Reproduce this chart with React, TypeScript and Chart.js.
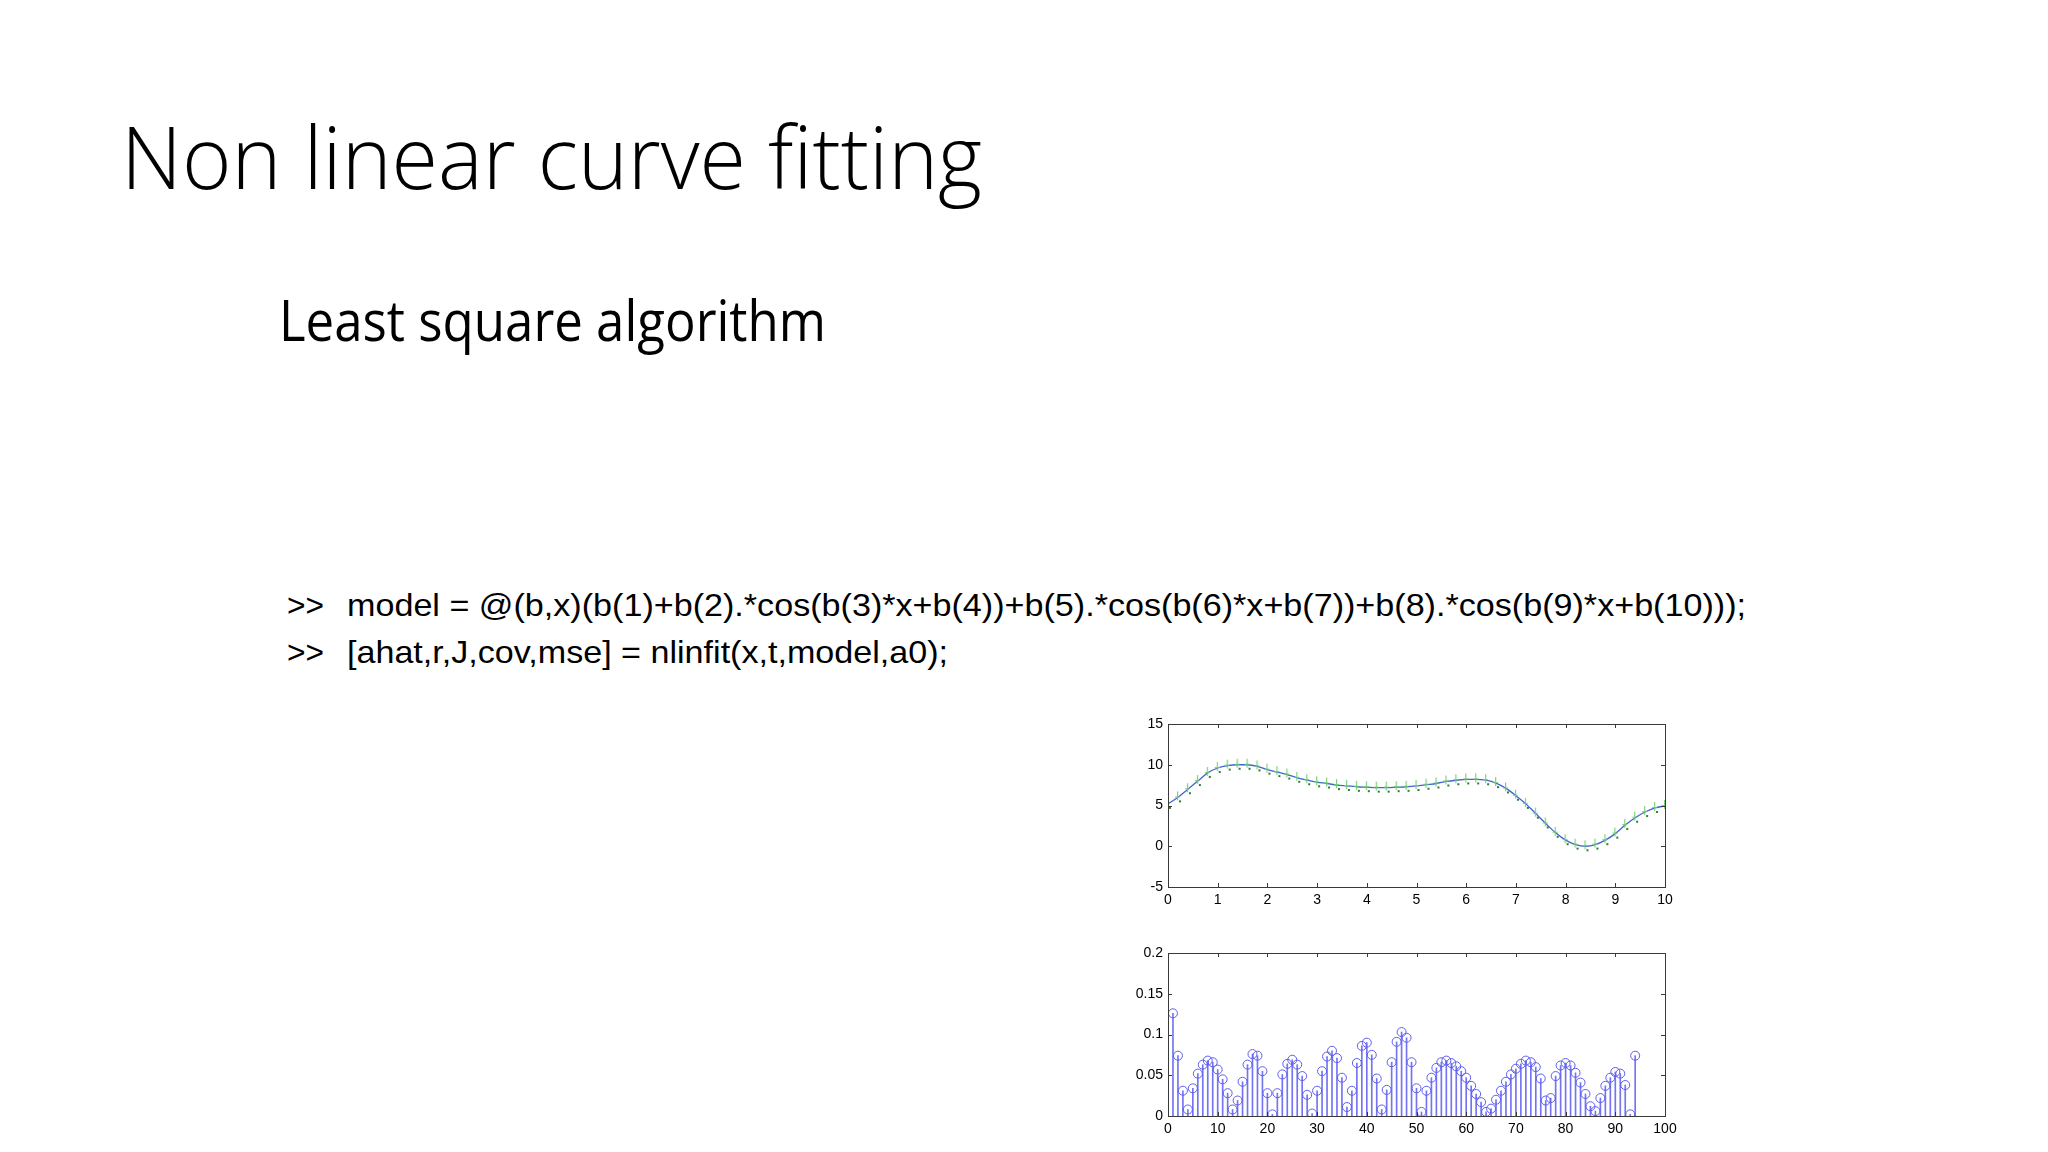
import React, { useEffect, useLayoutEffect, useRef } from "react";
import { Chart, registerables } from "chart.js";

Chart.register(...registerables);

// ---------- data ----------
const fitX = [0, 0.2, 0.4, 0.6, 0.8, 1, 1.2, 1.4, 1.6, 1.8, 2, 2.2, 2.4, 2.6, 2.8, 3, 3.2, 3.4, 3.6, 3.8, 4, 4.2, 4.4, 4.6, 4.8, 5, 5.2, 5.4, 5.6, 5.8, 6, 6.2, 6.4, 6.6, 6.8, 7, 7.2, 7.4, 7.6, 7.8, 8, 8.2, 8.4, 8.6, 8.8, 9, 9.2, 9.4, 9.6, 9.8, 10];
const fitY = [5.2, 6.0, 7.0, 8.0, 9.0, 9.6, 9.9, 10.0, 10.0, 9.8, 9.4, 9.1, 8.8, 8.4, 8.1, 7.85, 7.7, 7.5, 7.4, 7.3, 7.25, 7.2, 7.2, 7.25, 7.3, 7.4, 7.55, 7.7, 7.95, 8.1, 8.2, 8.2, 8.1, 7.75, 7.1, 6.2, 5.2, 4.0, 2.8, 1.65, 0.75, 0.2, 0.0, 0.2, 0.75, 1.55, 2.6, 3.5, 4.2, 4.7, 4.95];
const topXTicks = [0, 1, 2, 3, 4, 5, 6, 7, 8, 9, 10];
const topYTicks = [-5, 0, 5, 10, 15];

const residualIndex = [1, 2, 3, 4, 5, 6, 7, 8, 9, 10, 11, 12, 13, 14, 15, 16, 17, 18, 19, 20, 21, 22, 23, 24, 25, 26, 27, 28, 29, 30, 31, 32, 33, 34, 35, 36, 37, 38, 39, 40, 41, 42, 43, 44, 45, 46, 47, 48, 49, 50, 51, 52, 53, 54, 55, 56, 57, 58, 59, 60, 61, 62, 63, 64, 65, 66, 67, 68, 69, 70, 71, 72, 73, 74, 75, 76, 77, 78, 79, 80, 81, 82, 83, 84, 85, 86, 87, 88, 89, 90, 91, 92, 93, 94];
const residualValue = [0.126, 0.074, 0.031, 0.008, 0.034, 0.052, 0.063, 0.068, 0.066, 0.057, 0.045, 0.028, 0.008, 0.019, 0.042, 0.063, 0.076, 0.074, 0.055, 0.028, 0.002, 0.028, 0.051, 0.064, 0.069, 0.063, 0.049, 0.026, 0.003, 0.031, 0.055, 0.073, 0.080, 0.071, 0.047, 0.011, 0.031, 0.065, 0.086, 0.090, 0.075, 0.046, 0.008, 0.032, 0.066, 0.091, 0.103, 0.096, 0.066, 0.034, 0.005, 0.031, 0.047, 0.059, 0.066, 0.068, 0.065, 0.061, 0.055, 0.047, 0.037, 0.027, 0.017, 0.005, 0.009, 0.020, 0.031, 0.042, 0.051, 0.058, 0.064, 0.068, 0.066, 0.060, 0.046, 0.019, 0.022, 0.049, 0.062, 0.065, 0.062, 0.053, 0.041, 0.027, 0.012, 0.006, 0.022, 0.037, 0.047, 0.054, 0.052, 0.038, 0.002, 0.074];
const bottomXTicks = [0, 10, 20, 30, 40, 50, 60, 70, 80, 90, 100];
const bottomYTicks = [0, 0.05, 0.1, 0.15, 0.2];

// ---------- helpers ----------
const boxPlugin = {
  id: "matlabBox",
  afterDraw(chart: any) {
    const { ctx, chartArea } = chart;
    const { left, right, top, bottom } = chartArea;
    const xs = chart.scales.x;
    const ys = chart.scales.y;
    ctx.save();
    ctx.strokeStyle = "#3a3a3a";
    ctx.lineWidth = 1;
    ctx.strokeRect(Math.round(left) + 0.5, Math.round(top) + 0.5, Math.round(right - left), Math.round(bottom - top));
    const len = 4;
    ctx.beginPath();
    xs.ticks.forEach((t: any) => {
      const px = Math.round(xs.getPixelForValue(t.value)) + 0.5;
      ctx.moveTo(px, bottom);
      ctx.lineTo(px, bottom - len);
      ctx.moveTo(px, top);
      ctx.lineTo(px, top + len);
    });
    ys.ticks.forEach((t: any) => {
      const py = Math.round(ys.getPixelForValue(t.value)) + 0.5;
      ctx.moveTo(left, py);
      ctx.lineTo(left + len, py);
      ctx.moveTo(right, py);
      ctx.lineTo(right - len, py);
    });
    ctx.stroke();
    ctx.restore();
  },
};

function makeMarker(): HTMLCanvasElement {
  const c = document.createElement("canvas");
  c.width = 14;
  c.height = 20;
  const g = c.getContext("2d")!;
  g.fillStyle = "rgba(110, 205, 110, 0.9)";
  g.fillRect(6, 4, 1.2, 9);
  g.fillRect(4, 9, 5, 1);
  g.fillStyle = "#2f7d2f";
  g.fillRect(8, 13, 2, 2);
  return c;
}

function fmt(v: number) {
  return String(parseFloat(v.toFixed(2)));
}

function axisBase(ticksList: number[], min: number, max: number, isX: boolean) {
  return {
    type: "linear",
    min,
    max,
    afterBuildTicks: (scale: any) => {
      scale.ticks = ticksList.map((v) => ({ value: v }));
    },
    afterFit: (scale: any) => {
      if (isX) scale.height = 25;
      else scale.width = 50;
    },
    grid: { display: false, drawTicks: false },
    border: { display: false },
    ticks: {
      color: "#000",
      padding: 5,
      autoSkip: false,
      maxRotation: 0,
      font: { family: "'Liberation Sans', Arial, sans-serif", size: 14 },
      callback: (v: any) => fmt(Number(v)),
    },
  };
}

function TopChart() {
  const ref = useRef<HTMLCanvasElement>(null);
  useEffect(() => {
    const marker = makeMarker();
    const pts = fitX.map((x, i) => ({ x, y: fitY[i] }));
    const chart = new Chart(ref.current!, {
      type: "scatter",
      data: {
        datasets: [
          {
            data: pts,
            showLine: true,
            borderColor: "#3f63d6",
            borderWidth: 1.3,
            pointRadius: 0,
            cubicInterpolationMode: "monotone",
            order: 2,
          } as any,
          {
            data: pts,
            showLine: false,
            pointStyle: marker,
            pointRadius: 5,
            order: 1,
          } as any,
        ],
      },
      options: {
        animation: false,
        responsive: false,
        maintainAspectRatio: false,
        layout: { padding: { left: 8, right: 35, top: 24, bottom: 8 } },
        plugins: { legend: { display: false }, tooltip: { enabled: false } },
        scales: {
          x: axisBase(topXTicks, 0, 10, true) as any,
          y: axisBase(topYTicks, -5, 15, false) as any,
        },
      },
      plugins: [boxPlugin],
    });
    return () => chart.destroy();
  }, []);
  return <canvas ref={ref} width={590} height={220} style={{ position: "absolute", left: 1110, top: 700 }} />;
}

function BottomChart() {
  const ref = useRef<HTMLCanvasElement>(null);
  useEffect(() => {
    const pts = residualIndex.map((x, i) => ({ x, y: residualValue[i] }));
    const chart = new Chart(ref.current!, {
      type: "scatter",
      data: {
        datasets: [
          {
            type: "bar",
            data: pts,
            backgroundColor: "#7474f2",
            barThickness: 1,
            order: 2,
          } as any,
          {
            type: "scatter",
            data: pts,
            pointStyle: "circle",
            pointRadius: 4.5,
            borderColor: "#5d5df0",
            backgroundColor: "rgba(0,0,0,0)",
            borderWidth: 1,
            order: 1,
          } as any,
        ],
      },
      options: {
        animation: false,
        responsive: false,
        maintainAspectRatio: false,
        layout: { padding: { left: 8, right: 35, top: 23, bottom: 9 } },
        plugins: { legend: { display: false }, tooltip: { enabled: false } },
        scales: {
          x: { ...(axisBase(bottomXTicks, 0, 100, true) as any), offset: false },
          y: axisBase(bottomYTicks, 0, 0.2, false) as any,
        },
      },
      plugins: [boxPlugin],
    });
    return () => chart.destroy();
  }, []);
  return <canvas ref={ref} width={590} height={220} style={{ position: "absolute", left: 1110, top: 930 }} />;
}

function FitText(props: { left: number; top: number; width: number; size: number; family: string; weight?: number; text: string }) {
  const ref = useRef<HTMLDivElement>(null);
  useLayoutEffect(() => {
    const el = ref.current!;
    const fit = () => {
      el.style.transform = "none";
      const w = el.getBoundingClientRect().width;
      if (w > 0) el.style.transform = `scaleX(${props.width / w})`;
    };
    fit();
    (document as any).fonts?.ready?.then(fit);
  }, []);
  return (
    <div
      ref={ref}
      style={{
        position: "absolute",
        left: props.left,
        top: props.top,
        fontSize: props.size,
        fontFamily: props.family,
        fontWeight: props.weight ?? 400,
        lineHeight: 1,
        whiteSpace: "nowrap",
        transformOrigin: "0 0",
        color: "#000",
      }}
    >
      {props.text}
    </div>
  );
}

export default function App() {
  useEffect(() => {
    document.body.style.margin = "0";
  }, []);
  const codeFont = "'Liberation Sans Narrow', 'Arial Narrow', 'Liberation Sans', Arial, sans-serif";
  return (
    <div style={{ position: "absolute", left: 0, top: 0, width: 2048, height: 1152, background: "#fff", overflow: "hidden" }}>
      <FitText left={121} top={112} width={861} size={87} family="'Open Sans', sans-serif" weight={300} text="Non linear curve fitting" />
      <FitText left={279} top={291} width={547} size={56} family="'Open Sans', sans-serif" weight={400} text="Least square algorithm" />
      <FitText left={287} top={589} width={37} size={32} family={codeFont} text=">>" />
      <FitText left={347} top={589} width={1399} size={32} family={codeFont} text="model = @(b,x)(b(1)+b(2).*cos(b(3)*x+b(4))+b(5).*cos(b(6)*x+b(7))+b(8).*cos(b(9)*x+b(10)));" />
      <FitText left={287} top={636} width={37} size={32} family={codeFont} text=">>" />
      <FitText left={347} top={636} width={601} size={32} family={codeFont} text="[ahat,r,J,cov,mse] = nlinfit(x,t,model,a0);" />
      <TopChart />
      <BottomChart />
    </div>
  );
}
